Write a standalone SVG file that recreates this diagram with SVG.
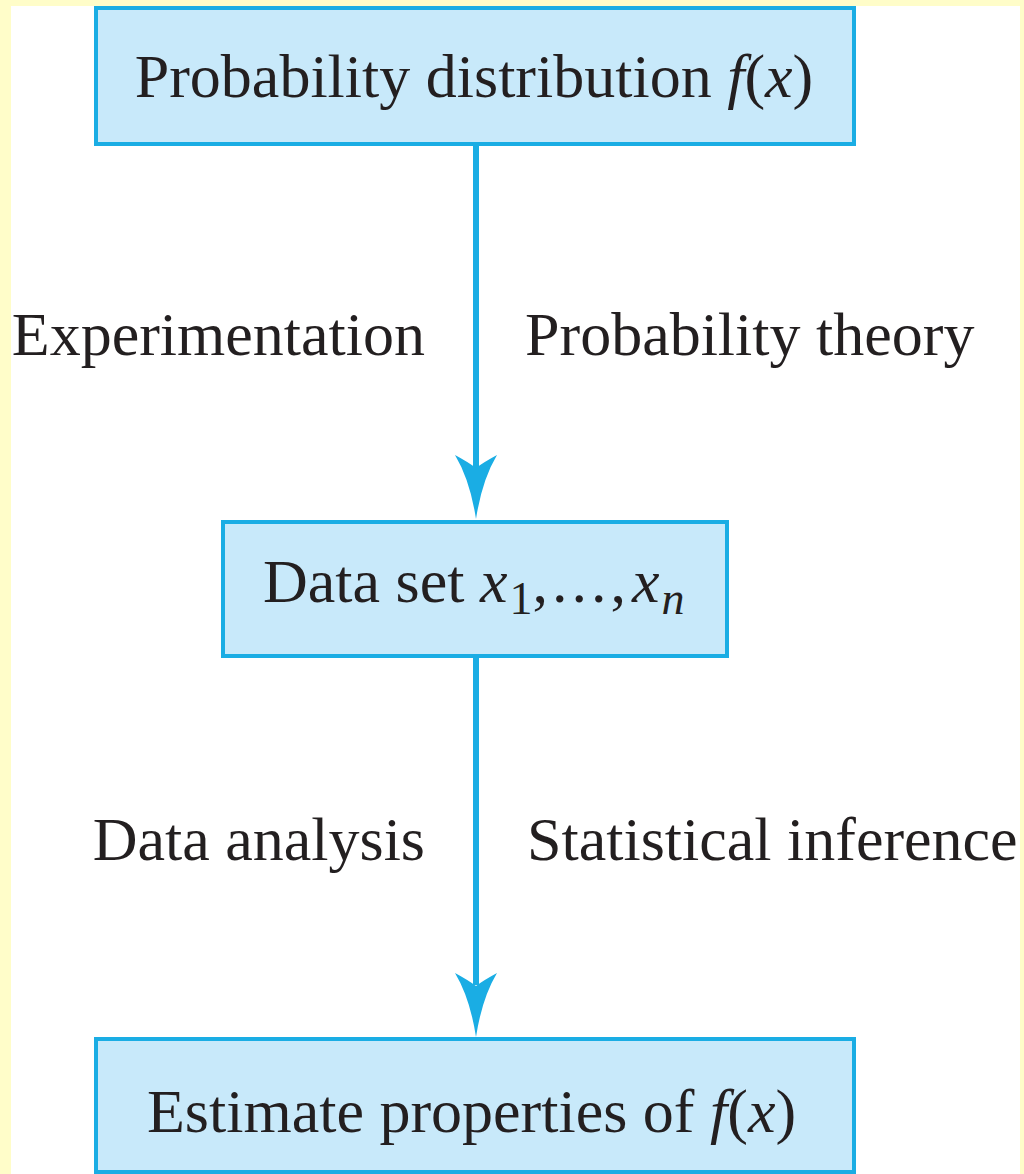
<svg xmlns="http://www.w3.org/2000/svg" width="1024" height="1174" viewBox="0 0 1024 1174">
<defs>
<style>
.box{fill:#C8E9FA;stroke:#1AADE4;stroke-width:4}
.t{font-family:"Liberation Serif","Times New Roman",serif;font-size:62px;fill:#231F20}
.i{font-style:italic}
.line{stroke:#1AADE4;stroke-width:6;fill:none}
.head{fill:#1AADE4}
</style>
</defs>
<rect x="0" y="0" width="1024" height="1174" fill="#FFFDC9"/>
<rect x="11" y="6" width="1009" height="1168" fill="#FFFFFF"/>
<g id="connectors">
<line class="line" x1="476" y1="145" x2="476" y2="470"/>
<path class="head" d="M476,519 Q470,480 455,455 Q468,462 476,468 Q484,462 497,455 Q482,480 476,519 Z"/>
<line class="line" x1="476" y1="657" x2="476" y2="985"/>
<path class="head" d="M476,1037 Q470,998 455,973 Q468,980 476,986 Q484,980 497,973 Q482,998 476,1037 Z"/>
</g>
<g id="node-top">
<rect class="box" x="96" y="8" width="758" height="136"/>
<text class="t" x="474" y="97" text-anchor="middle">Probability distribution <tspan class="i">f</tspan>(<tspan class="i">x</tspan>)</text>
</g>
<g id="node-data">
<rect class="box" x="223" y="522" width="504" height="134"/>
<text class="t" x="263" y="602">Data set <tspan class="i">x</tspan><tspan font-size="46" dx="2" dy="12">1</tspan><tspan dy="-12" letter-spacing="4">,...,</tspan><tspan class="i" dx="2">x</tspan><tspan class="i" font-size="46" dx="2" dy="12">n</tspan></text>
</g>
<g id="node-estimate">
<rect class="box" x="96" y="1039" width="758" height="133"/>
<text class="t" x="147" y="1132">Estimate properties of <tspan class="i">f</tspan>(<tspan class="i">x</tspan>)</text>
</g>
<g id="labels">
<text class="t" x="425" y="355" text-anchor="end">Experimentation</text>
<text class="t" x="525" y="355">Probability theory</text>
<text class="t" x="425" y="860" text-anchor="end">Data analysis</text>
<text class="t" x="527" y="860">Statistical inference</text>
</g>
</svg>
